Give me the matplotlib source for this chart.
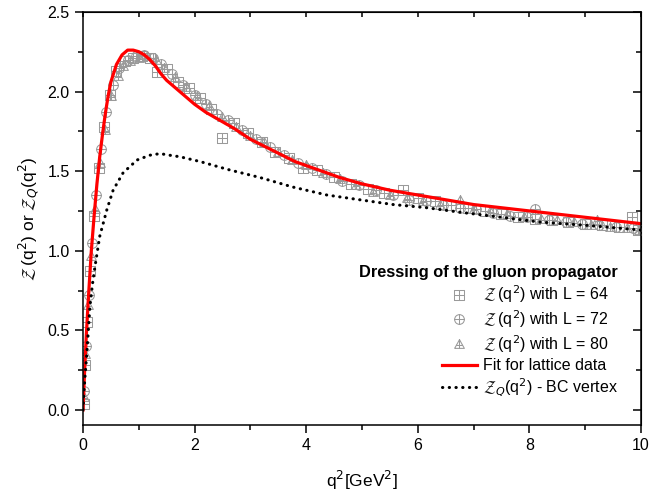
import matplotlib
matplotlib.use('Agg')
import matplotlib.pyplot as plt
from matplotlib.path import Path
from matplotlib.ticker import MultipleLocator

plt.rcParams['font.family'] = ['Liberation Sans', 'DejaVu Sans']
plt.rcParams['mathtext.fontset'] = 'dejavusans'

# fit for lattice data
fit_q2 = [0, 0.03, 0.06, 0.1, 0.15, 0.2, 0.25, 0.3, 0.35, 0.4, 0.45, 0.5, 0.6, 0.7, 0.8, 0.9,
          1.0, 1.1, 1.2, 1.3, 1.4, 1.5, 1.6, 1.8, 2.0, 2.2, 2.4, 2.7, 3.0, 3.4, 3.8, 4.2, 4.6,
          5.0, 5.5, 6.0, 6.5, 7.0, 7.5, 8.0, 8.5, 9.0, 9.5, 10.0]
fit_z = [0, 0.25, 0.47, 0.72, 1.00, 1.22, 1.42, 1.59, 1.73, 1.86, 1.97, 2.06, 2.17, 2.23, 2.26, 2.26,
         2.25, 2.23, 2.20, 2.16, 2.11, 2.07, 2.04, 1.98, 1.92, 1.87, 1.83, 1.77, 1.70, 1.63, 1.56, 1.51, 1.46,
         1.42, 1.38, 1.35, 1.32, 1.29, 1.27, 1.25, 1.23, 1.21, 1.19, 1.17]

# BC vertex
bc_q2 = [0, 0.03, 0.07, 0.125, 0.17, 0.215, 0.3, 0.43, 0.54, 0.72, 0.97, 1.2, 1.38, 1.55, 1.74,
         2.1, 2.6, 3.17, 3.76, 4.37, 4.96, 5.56, 6.16, 6.8, 7.5, 8.19, 9.0, 10.0]
bc_z = [0, 0.18, 0.36, 0.65, 0.79, 0.90, 1.09, 1.26, 1.38, 1.49, 1.57, 1.60, 1.61, 1.60, 1.59,
        1.56, 1.51, 1.46, 1.40, 1.35, 1.32, 1.29, 1.27, 1.24, 1.21, 1.18, 1.16, 1.13]

# lattice L = 64
l64_q2 = [0.01, 0.03, 0.07, 0.13, 0.2, 0.28, 0.37, 0.48, 0.6, 0.75, 0.9, 1.05, 1.2, 1.32, 1.5, 1.7,
          1.9, 2.1, 2.3, 2.49, 2.7, 2.95, 3.2, 3.45, 3.7, 3.95, 4.2, 4.5, 4.8, 5.1, 5.4, 5.73, 6.0,
          6.3, 6.6, 6.9, 7.2, 7.5, 7.8, 8.1, 8.4, 8.7, 9.0, 9.3, 9.6, 9.84, 9.95]
l64_z = [0.04, 0.28, 0.55, 0.87, 1.22, 1.52, 1.78, 1.98, 2.13, 2.19, 2.21, 2.22, 2.21, 2.12, 2.14, 2.06,
         2.02, 1.96, 1.89, 1.71, 1.80, 1.74, 1.68, 1.62, 1.58, 1.52, 1.51, 1.46, 1.42, 1.39, 1.36, 1.38, 1.33,
         1.31, 1.29, 1.27, 1.25, 1.23, 1.21, 1.20, 1.19, 1.18, 1.17, 1.16, 1.15, 1.21, 1.13]

# lattice L = 72
l72_q2 = [0.02, 0.05, 0.1, 0.16, 0.23, 0.32, 0.42, 0.53, 0.65, 0.8, 0.95, 1.1, 1.25, 1.4, 1.6, 1.8,
          2.0, 2.2, 2.4, 2.6, 2.85, 3.1, 3.35, 3.6, 3.85, 4.1, 4.35, 4.65, 4.95, 5.25, 5.55, 5.85,
          6.15, 6.45, 6.75, 7.05, 7.35, 7.65, 7.95, 8.1, 8.35, 8.65, 8.95, 9.25, 9.55, 9.85]
l72_z = [0.12, 0.40, 0.72, 1.05, 1.35, 1.64, 1.87, 2.04, 2.15, 2.20, 2.22, 2.23, 2.21, 2.17, 2.11, 2.04,
         1.98, 1.92, 1.86, 1.82, 1.76, 1.70, 1.65, 1.60, 1.55, 1.52, 1.48, 1.44, 1.41, 1.38, 1.35, 1.32,
         1.31, 1.29, 1.27, 1.26, 1.24, 1.22, 1.21, 1.26, 1.19, 1.18, 1.17, 1.16, 1.15, 1.14]

# lattice L = 80
l80_q2 = [0.015, 0.04, 0.09, 0.14, 0.22, 0.3, 0.39, 0.5, 0.62, 0.72, 0.85, 1.0, 1.15, 1.3, 1.45, 1.65,
          1.85, 2.05, 2.25, 2.5, 2.75, 3.0, 3.25, 3.5, 3.75, 4.0, 4.3, 4.6, 4.9, 5.2, 5.5, 5.8, 6.1,
          6.4, 6.76, 7.0, 7.3, 7.6, 7.9, 8.2, 8.5, 8.8, 9.1, 9.21, 9.45, 9.75, 9.97]
l80_z = [0.08, 0.35, 0.66, 0.97, 1.26, 1.55, 1.76, 1.97, 2.10, 2.16, 2.19, 2.21, 2.22, 2.20, 2.15, 2.09,
         2.03, 1.97, 1.91, 1.84, 1.78, 1.72, 1.68, 1.62, 1.57, 1.54, 1.49, 1.45, 1.41, 1.37, 1.35, 1.33, 1.31,
         1.29, 1.32, 1.26, 1.25, 1.23, 1.21, 1.20, 1.19, 1.18, 1.16, 1.19, 1.15, 1.14, 1.13]

# marker shapes: square / circle / triangle with a cross inside
M, L = Path.MOVETO, Path.LINETO
cross = Path([(0, -1), (0, 1), (-1, 0), (1, 0)], [M, L, M, L])
sq = Path([(-1, -1), (1, -1), (1, 1), (-1, 1), (-1, -1)], [M, L, L, L, L])
tri = Path([(-1, -0.8), (1, -0.8), (0, 1), (-1, -0.8), (0, -0.8), (0, 1), (-0.7, -0.2), (0.7, -0.2)],
           [M, L, L, L, M, L, M, L])
sq_plus = Path.make_compound_path(sq, cross)
circ_plus = Path.make_compound_path(Path.unit_circle(), cross)

grey = '#9a9a9a'
fig = plt.figure(figsize=(6.67, 4.96), dpi=100)
ax = fig.add_axes([0.1244, 0.143, 0.8366, 0.833])

mk = dict(linestyle='none', markerfacecolor='none', markeredgecolor=grey, markeredgewidth=0.75, markersize=7)
ax.plot(l64_q2, l64_z, marker=sq_plus, label=r'$\mathcal{Z}\,$(q$^2$) with L = 64', **mk)
ax.plot(l72_q2, l72_z, marker=circ_plus, label=r'$\mathcal{Z}\,$(q$^2$) with L = 72', **mk)
ax.plot(l80_q2, l80_z, marker=tri, label=r'$\mathcal{Z}\,$(q$^2$) with L = 80', **mk)
ax.plot(fit_q2, fit_z, color='red', lw=2.3, label='Fit for lattice data')
ax.plot(bc_q2, bc_z, color='black', lw=2.2, linestyle=(0, (0.1, 2.1)), dash_capstyle='round',
        label=r'$\mathcal{Z}_Q$(q$^2$) - BC vertex')

ax.set_xlim(0, 10)
ax.set_ylim(-0.095, 2.5)
ax.xaxis.set_major_locator(MultipleLocator(2))
ax.xaxis.set_minor_locator(MultipleLocator(1))
ax.yaxis.set_major_locator(MultipleLocator(0.5))
ax.yaxis.set_minor_locator(MultipleLocator(0.25))
ax.tick_params(which='both', direction='out', width=1.1, labelsize=11.5)
ax.tick_params(which='major', length=6)
ax.tick_params(which='minor', length=3.5)
for s in ax.spines.values():
    s.set_linewidth(1.1)

top = ax.secondary_xaxis('top')
top.xaxis.set_major_locator(MultipleLocator(1))
top.tick_params(direction='in', length=3.5, width=1.1, labeltop=False)
right = ax.secondary_yaxis('right')
right.yaxis.set_major_locator(MultipleLocator(0.5))
right.yaxis.set_minor_locator(MultipleLocator(0.25))
right.tick_params(which='both', direction='in', width=1.1, labelright=False)
right.tick_params(which='major', length=6)
right.tick_params(which='minor', length=3.5)

ax.set_xlabel(r'q$^2$[GeV$^2$]', fontsize=12.5, labelpad=11)
ax.set_ylabel(r'$\mathcal{Z}\,$(q$^2$) or $\mathcal{Z}_Q$(q$^2$)', fontsize=12.5, labelpad=5)

leg = ax.legend(loc='lower right', bbox_to_anchor=(0.985, 0.03), frameon=False, fontsize=11.5,
                title='Dressing of the gluon propagator', alignment='right',
                handlelength=2.2, handletextpad=0.4, labelspacing=0.2)
leg.get_title().set_fontweight('bold')
leg.get_title().set_fontsize(11.8)

fig.savefig('out.png', dpi=100)
